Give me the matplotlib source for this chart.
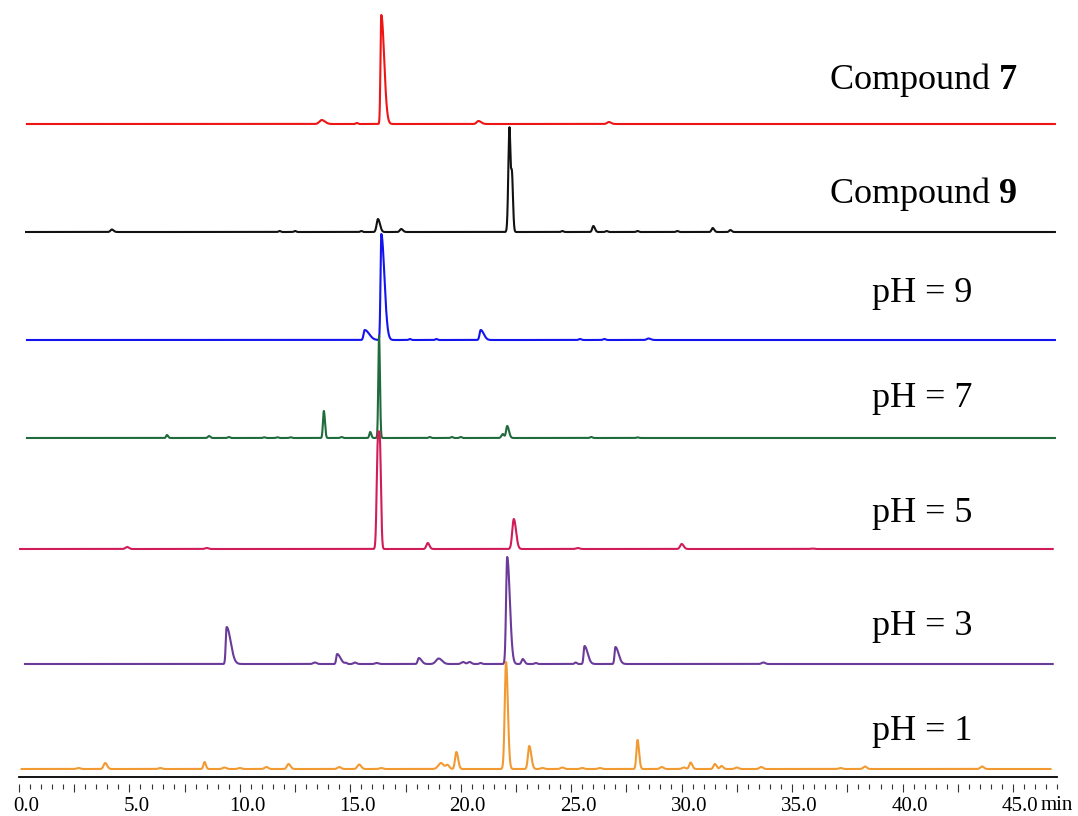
import numpy as np
import matplotlib
matplotlib.use("Agg")
import matplotlib.pyplot as plt
import matplotlib.transforms as mtransforms

plt.rcParams['font.family'] = ['Liberation Serif', 'DejaVu Serif']
plt.rcParams['mathtext.fontset'] = 'custom'
plt.rcParams['mathtext.rm'] = 'Liberation Serif'
plt.rcParams['mathtext.bf'] = 'Liberation Serif:bold'

# ---------------- data (retention time [min], height, left/right peak width) ----------------
labels = [r'Compound $\mathbf{7}$', r'Compound $\mathbf{9}$', 'pH = 9', 'pH = 7', 'pH = 5', 'pH = 3', 'pH = 1']
colors = ['#EE1515', '#111111', '#1414EE', '#1F6B3B', '#D01C58', '#6A3B98', '#F29A32']
offsets = [653, 545, 437, 339, 228, 113, 8]
t_start = [0.36, 0.32, 0.36, 0.36, 0.05, 0.27, 0.12]
t_end = [46.9, 46.9, 46.9, 46.9, 46.8, 46.8, 46.7]

red_rt = [13.7, 15.3, 16.4, 20.8, 26.7]
red_h = [4, 1, 109, 3, 2]
red_sl = [0.10, 0.05, 0.035, 0.08, 0.08]
red_sr = [0.15, 0.05, 0.13, 0.12, 0.10]

black_rt = [4.2, 11.8, 12.5, 15.5, 16.25, 17.3, 22.2, 22.31, 24.6, 26.0, 26.6, 28.0, 29.8, 31.4, 32.2]
black_h = [2.5, 1, 1, 1, 13, 3, 99, 60, 1, 6, 1, 1, 1, 4, 2]
black_sl = [0.06, 0.05, 0.05, 0.05, 0.06, 0.06, 0.05, 0.05, 0.05, 0.05, 0.05, 0.05, 0.05, 0.05, 0.05]
black_sr = [0.08, 0.05, 0.05, 0.05, 0.09, 0.08, 0.04, 0.05, 0.05, 0.07, 0.05, 0.05, 0.05, 0.07, 0.06]

blue_rt = [15.65, 16.4, 17.7, 18.9, 20.9, 25.4, 26.5, 28.5]
blue_h = [10, 106, 1, 1, 10, 1, 1, 1.5]
blue_sl = [0.05, 0.035, 0.05, 0.05, 0.05, 0.06, 0.06, 0.08]
blue_sr = [0.20, 0.14, 0.05, 0.05, 0.14, 0.06, 0.06, 0.10]

green_rt = [6.7, 8.6, 9.5, 11.1, 11.7, 12.3, 13.8, 14.6, 15.9, 16.3, 18.6, 19.6, 20.0, 21.9, 22.1, 25.9, 28.0]
green_h = [3, 2, 1, 0.7, 0.7, 0.7, 27, 1, 6, 102, 1, 1, 1, 4, 12, 1, 0.6]
green_sl = [0.04, 0.05, 0.05, 0.05, 0.05, 0.05, 0.04, 0.05, 0.04, 0.035, 0.05, 0.05, 0.05, 0.06, 0.05, 0.05, 0.05]
green_sr = [0.05, 0.06, 0.05, 0.05, 0.05, 0.05, 0.05, 0.05, 0.05, 0.04, 0.05, 0.05, 0.05, 0.06, 0.08, 0.06, 0.05]

crimson_rt = [4.9, 8.5, 16.24, 16.34, 18.5, 22.4, 25.3, 30.0, 35.9]
crimson_h = [2, 1, 97, 97, 6, 30, 1, 5, 0.5]
crimson_sl = [0.08, 0.08, 0.05, 0.05, 0.06, 0.07, 0.08, 0.07, 0.08]
crimson_sr = [0.08, 0.08, 0.05, 0.05, 0.08, 0.10, 0.08, 0.09, 0.08]

purple_rt = [9.4, 13.4, 14.4, 14.8, 15.2, 16.2, 18.1, 19.0, 20.1, 20.4, 20.9, 22.1, 22.8, 23.4, 25.2, 25.6, 27.0, 33.7]
purple_h = [37, 1.5, 10, 1, 1.5, 1, 6, 5.5, 2, 2, 1, 107, 5, 1, 1.5, 18, 17, 1.5]
purple_sl = [0.04, 0.08, 0.04, 0.05, 0.06, 0.08, 0.05, 0.12, 0.08, 0.08, 0.06, 0.05, 0.05, 0.06, 0.05, 0.04, 0.04, 0.08]
purple_sr = [0.18, 0.08, 0.15, 0.05, 0.08, 0.08, 0.12, 0.15, 0.08, 0.08, 0.06, 0.12, 0.08, 0.06, 0.05, 0.14, 0.14, 0.08]

orange_rt = [2.7, 3.9, 6.4, 8.4, 9.3, 10.0, 11.2, 12.2, 14.5, 15.4, 16.4, 19.1, 19.4, 19.8, 22.05, 23.1,
             23.7, 24.6, 25.5, 26.3, 28.0, 29.1, 30.1, 30.4, 31.5, 31.8, 32.5, 33.6, 37.2, 38.3, 43.6]
orange_h = [1, 6, 1, 7, 1.5, 1, 2, 5, 2, 4.5, 1, 6, 4, 17, 107, 23,
            1, 1.5, 1, 1, 29, 2, 1.5, 6.5, 5, 3, 1.5, 2, 1, 2.5, 2.5]
orange_sl = [0.08, 0.07, 0.08, 0.05, 0.08, 0.08, 0.08, 0.07, 0.08, 0.08, 0.08, 0.12, 0.08, 0.06, 0.06, 0.06,
             0.08, 0.08, 0.08, 0.08, 0.05, 0.08, 0.08, 0.06, 0.06, 0.06, 0.08, 0.08, 0.08, 0.08, 0.08]
orange_sr = [0.08, 0.09, 0.08, 0.06, 0.08, 0.08, 0.08, 0.09, 0.08, 0.09, 0.08, 0.12, 0.08, 0.08, 0.08, 0.09,
             0.08, 0.08, 0.08, 0.08, 0.07, 0.08, 0.08, 0.08, 0.08, 0.08, 0.08, 0.08, 0.08, 0.08, 0.08]

traces = [
    (red_rt, red_h, red_sl, red_sr),
    (black_rt, black_h, black_sl, black_sr),
    (blue_rt, blue_h, blue_sl, blue_sr),
    (green_rt, green_h, green_sl, green_sr),
    (crimson_rt, crimson_h, crimson_sl, crimson_sr),
    (purple_rt, purple_h, purple_sl, purple_sr),
    (orange_rt, orange_h, orange_sl, orange_sr),
]

label_x = [36.67, 36.67, 38.6, 38.6, 38.6, 38.6, 38.6]
label_y = [688, 574, 475, 370, 255, 142, 37]


def chromatogram(t, rts, hs, sls, srs):
    y = np.zeros_like(t)
    for t0, h, sl, sr in zip(rts, hs, sls, srs):
        s = np.where(t < t0, sl, sr)
        y += h * np.exp(-0.5 * ((t - t0) / s) ** 2)
    return y


# ---------------- figure ----------------
W, H = 1078, 816
fig = plt.figure(figsize=(W / 100, H / 100), dpi=100)
x0_px, px_per_min, axis_px = 19, 22.09, 777
xmax = 47.0
ax = fig.add_axes([x0_px / W, (H - axis_px) / H, xmax * px_per_min / W, axis_px / H])
ax.set_xlim(0, xmax)
ax.set_ylim(0, axis_px)

for (rts, hs, sls, srs), c, off, ts, te, lab, lx, ly in zip(
        traces, colors, offsets, t_start, t_end, labels, label_x, label_y):
    t = np.arange(ts, te, 0.005)
    ax.plot(t, off + chromatogram(t, rts, hs, sls, srs), color=c, lw=1.5, solid_joinstyle='round')
    ax.text(lx, ly, lab, fontsize=26, ha='left', va='baseline', color='black')

for s in ['top', 'right', 'left']:
    ax.spines[s].set_visible(False)
ax.spines['bottom'].set_position(('outward', 5))
ax.spines['bottom'].set_visible(False)
ax.axhline(0, color='black', lw=1.3, clip_on=False)
ax.set_yticks([])

major = np.arange(0, 45.01, 2.5)
ax.set_xticks(major, labels=[f'{v:.1f}' if abs(v % 5) < 1e-9 else '' for v in major])
ax.set_xticks(np.arange(0, 47.01, 0.5), minor=True)
ax.tick_params(axis='x', which='major', length=5.5, width=0.8, color='#333333',
               labelsize=15, pad=3.8, direction='out')
ax.tick_params(axis='x', which='minor', length=3.3, width=0.8, color='#333333', direction='out')
shift = mtransforms.ScaledTranslation(7 / 100, 0, fig.dpi_scale_trans)
for lbl in ax.get_xticklabels():
    lbl.set_transform(lbl.get_transform() + shift)

ax.annotate('min', xy=(45, 0), xycoords='data', xytext=(28, -32.5), textcoords='offset pixels',
            fontsize=15, ha='left', va='baseline', annotation_clip=False)

fig.savefig('out.png', dpi=100)
